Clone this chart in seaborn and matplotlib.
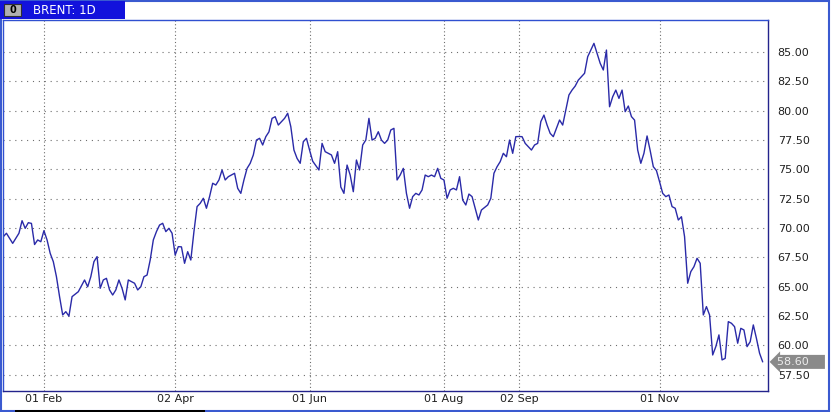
import matplotlib
matplotlib.use("Agg")
import matplotlib.pyplot as plt
import seaborn as sns
import pandas as pd
from matplotlib.patches import Rectangle
from matplotlib.transforms import blended_transform_factory

# ---- data (trading session number, closing price) ----
session = [0, 1, 3, 5, 6, 7, 8, 9, 10, 11, 12, 13, 14, 15, 16, 17, 18, 19, 20, 21,
           22, 24, 26, 27, 28, 29, 30, 31, 32, 33, 34, 35, 36, 37, 38, 39, 40, 42, 43, 44,
           45, 46, 47, 48, 49, 50, 51, 52, 53, 54, 55, 56, 57, 58, 59, 60, 61, 62, 63, 64,
           65, 66, 67, 68, 69, 70, 71, 72, 73, 74, 75, 76, 77, 78, 79, 80, 81, 82, 83, 84,
           85, 86, 87, 88, 89, 90, 91, 92, 93, 94, 95, 96, 97, 98, 99, 101, 102, 103, 105, 106,
           107, 108, 109, 110, 111, 112, 113, 114, 115, 116, 117, 118, 119, 120, 121, 122, 123, 124, 125, 126,
           127, 128, 129, 130, 131, 132, 133, 134, 135, 136, 137, 138, 139, 140, 141, 142, 143, 144, 145, 146,
           147, 148, 149, 150, 152, 153, 155, 156, 157, 158, 159, 160, 161, 162, 163, 164, 165, 166, 167, 169,
           170, 171, 172, 173, 174, 175, 176, 177, 178, 179, 180, 181, 182, 183, 184, 185, 186, 187, 188, 189,
           190, 191, 192, 193, 194, 195, 196, 197, 198, 199, 200, 201, 202, 203, 204, 205, 206, 207, 208, 209,
           210, 211, 212, 213, 214, 215, 216, 217, 218, 219, 220, 221, 222, 223, 224, 225, 226, 227, 228, 229,
           230, 231, 232, 233, 234, 235, 236, 237, 238, 239, 240, 241, 242, 243]
price = [69.27, 69.56, 68.70, 69.56, 70.63, 69.98, 70.46, 70.40, 68.60, 68.99, 68.84, 69.78, 68.99, 67.85, 67.14, 65.86, 64.16, 62.60, 62.88, 62.50,
         64.16, 64.58, 65.58, 65.00, 65.86, 67.14, 67.57, 64.87, 65.58, 65.72, 64.73, 64.30, 64.73, 65.58, 64.87, 63.88, 65.58, 65.30, 64.73, 65.00,
         65.86, 66.00, 67.28, 68.99, 69.70, 70.26, 70.41, 69.70, 69.98, 69.56, 67.70, 68.42, 68.40, 67.00, 67.99, 67.28, 69.70, 71.83, 72.11, 72.54,
         71.69, 72.68, 73.82, 73.67, 74.10, 74.95, 74.10, 74.38, 74.52, 74.67, 73.39, 72.96, 74.10, 75.09, 75.52, 76.23, 77.50, 77.65, 77.08, 77.79,
         78.20, 79.35, 79.49, 78.78, 79.07, 79.35, 79.78, 78.64, 76.65, 75.94, 75.52, 77.36, 77.65, 76.65, 75.70, 74.95, 77.22, 76.51, 76.23, 75.52,
         76.51, 73.50, 72.96, 75.37, 74.52, 73.10, 75.80, 74.95, 77.08, 77.50, 79.35, 77.50, 77.65, 78.21, 77.50, 77.22, 77.50, 78.36, 78.50, 74.10,
         74.52, 75.09, 72.96, 71.69, 72.68, 72.96, 72.82, 73.25, 74.52, 74.38, 74.52, 74.38, 75.09, 74.24, 74.10, 72.54, 73.25, 73.39, 73.25, 74.38,
         72.39, 71.97, 72.90, 72.68, 70.69, 71.54, 71.97, 72.54, 74.67, 75.23, 75.66, 76.37, 76.08, 77.50, 76.37, 77.79, 77.80, 77.79, 77.22, 76.65,
         77.08, 77.22, 79.07, 79.63, 78.78, 78.07, 77.79, 78.50, 79.21, 78.78, 80.06, 81.34, 81.76, 82.10, 82.61, 82.90, 83.19, 84.60, 85.17, 85.74,
         84.89, 84.04, 83.47, 85.17, 80.34, 81.19, 81.76, 81.05, 81.76, 79.92, 80.40, 79.50, 79.20, 76.65, 75.52, 76.37, 77.85, 76.60, 75.23, 74.90,
         73.95, 72.96, 72.68, 72.82, 71.83, 71.69, 70.69, 70.97, 69.27, 65.30, 66.29, 66.71, 67.43, 67.00, 62.60, 63.31, 62.60, 59.19, 59.90, 60.90,
         58.77, 58.90, 62.03, 61.89, 61.60, 60.19, 61.46, 61.32, 59.90, 60.32, 61.75, 60.60, 59.34, 58.60]
tick_sessions = [13, 55, 98, 141, 165, 210]
tick_labels = ["01 Feb", "02 Apr", "01 Jun", "01 Aug", "02 Sep", "01 Nov"]
y_ticks = [57.5, 60.0, 62.5, 65.0, 67.5, 70.0, 72.5, 75.0, 77.5, 80.0, 82.5, 85.0]
title = "BRENT: 1D"
last_price = 58.60

sns.set_style("white")
plt.rcParams["font.family"] = ["DejaVu Sans"]

W, H = 831, 412
fig = plt.figure(figsize=(W / 100, H / 100), dpi=100)
fig.patch.set_facecolor("white")
ax = fig.add_axes([3 / W, 1 - 391 / H, 765 / W, 371 / H])

df = pd.DataFrame({"session": session, "price": price})
sns.lineplot(data=df, x="session", y="price", ax=ax, color="#2a2aa8", linewidth=1.0)

ax.set_xlim(-0.1, 244.7)
ax.set_ylim(56.12, 87.73)
ax.set_xlabel("")
ax.set_ylabel("")

ax.set_xticks(tick_sessions)
ax.set_xticklabels(tick_labels)
ax.set_yticks(y_ticks)
ax.set_yticklabels([f"{v:.2f}" for v in y_ticks])
ax.yaxis.tick_right()
ax.tick_params(axis="y", length=0, pad=7, labelsize=8, labelcolor="#202020")
ax.tick_params(axis="x", length=0, pad=2, labelsize=8, labelcolor="#202020")

ax.yaxis.grid(True, linestyle=(0, (1, 4.3)), color="#6e6e6e", linewidth=0.8)
ax.xaxis.grid(True, linestyle=(0, (1, 2.2)), color="#6e6e6e", linewidth=0.8)
ax.set_axisbelow(True)

for side, sp in ax.spines.items():
    sp.set_visible(True)
    sp.set_color("#23238c")
    sp.set_linewidth(1.0)
ax.spines["left"].set_color("#3050d0")
ax.spines["top"].set_color("#3050d0")

# last price marker
trans = blended_transform_factory(ax.transAxes, ax.transData)
ax.text(1.012, last_price, f"{last_price:.2f}    ", transform=trans, ha="left", va="center",
        fontsize=8, color="#ececec",
        bbox=dict(boxstyle="larrow,pad=0.18", fc="#8a8a8a", ec="none"), clip_on=False)

# title bar
fig.patches.append(Rectangle((0, 1 - 19 / H), 125 / W, 18 / H, transform=fig.transFigure,
                             fc="#1212dc", ec="none", zorder=5))
fig.patches.append(Rectangle((4 / W, 1 - 16 / H), 17 / W, 12 / H, transform=fig.transFigure,
                             fc="#b0b0b0", ec="#303030", lw=0.8, zorder=6))
fig.text(12.5 / W, 1 - 10 / H, "0", fontsize=7, fontweight="bold", color="black",
         ha="center", va="center", zorder=7)
fig.text(33 / W, 1 - 10 / H, title, fontsize=8.5, color="white", ha="left", va="center", zorder=7)

# outer frame and bottom bar
fig.patches.append(Rectangle((0.001, 0.003), 0.996, 0.995, transform=fig.transFigure,
                             fill=False, ec="#3a5ad0", lw=1.5, zorder=4))
fig.patches.append(Rectangle((15 / W, 0), 190 / W, 2.5 / H, transform=fig.transFigure,
                             fc="black", ec="none", zorder=6))

fig.savefig("out.png", dpi=100, facecolor="white")
